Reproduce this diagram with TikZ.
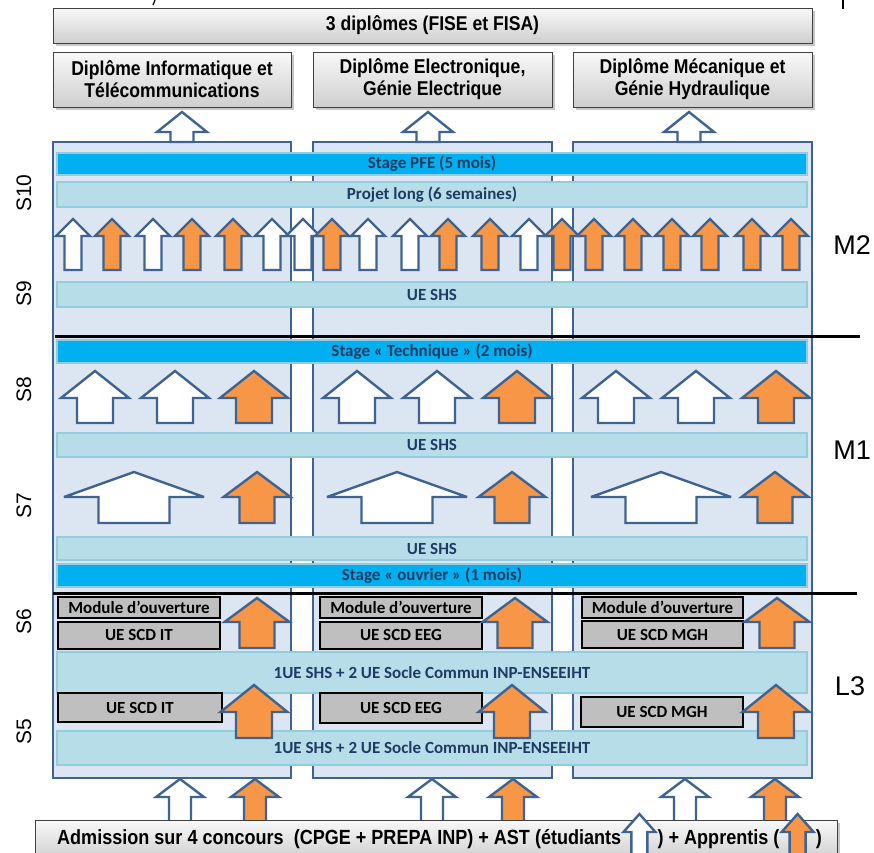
\documentclass[tikz,border=0pt]{standalone}
\usepackage{fontspec}
\setmainfont{Liberation Sans}
\newfontfamily\labfont{Carlito}
\newfontfamily\narrowfont{Liberation Sans}[FakeStretch=0.88]
\usetikzlibrary{shadows}

\definecolor{frameblue}{HTML}{3F6391}
\definecolor{colfill}{HTML}{DCE6F2}
\definecolor{brightblue}{HTML}{00B0F0}
\definecolor{paleteal}{HTML}{B7DEE8}
\definecolor{barline}{HTML}{93CDDD}
\definecolor{labelnavy}{HTML}{1F3B63}
\definecolor{apporange}{HTML}{F79646}
\definecolor{boxgray}{HTML}{BFBFBF}
\definecolor{boxedge}{HTML}{404040}

% block arrow: fill, centre x, tip y, head base y, bottom y, head half width, shaft half width
\newcommand\blkarrow[7]{%
  \draw[blockedge, fill=#1]
    ({#2-#7},#5) -- ({#2-#7},#4) -- ({#2-#6},#4) -- (#2,#3)
    -- ({#2+#6},#4) -- ({#2+#7},#4) -- ({#2+#7},#5) -- cycle;}

\begin{document}
\begin{tikzpicture}[x=1pt,y=-1pt,
  blockedge/.style={draw=frameblue, line width=2.4pt, line join=miter, miter limit=4},
  colframe/.style={draw=frameblue, line width=2.5pt, fill=colfill, inner sep=0pt},
  bar/.style={draw=barline, line width=2pt, minimum width=750pt, inner sep=0pt,
    text=labelnavy, font=\labfont\bfseries\fontsize{17}{19}\selectfont},
  brightbar/.style={bar, fill=brightblue},
  palebar/.style={bar, fill=paleteal},
  scdbox/.style={draw=black, line width=2pt, fill=boxgray, inner sep=0pt,
    text=black, font=\labfont\bfseries\fontsize{17}{19}\selectfont},
  topbox/.style={draw=boxedge, line width=1pt, top color=gray!5, bottom color=gray!38,
    drop shadow={shadow xshift=3pt, shadow yshift=-3pt, opacity=0.45, fill=gray},
    inner sep=0pt, align=center, font=\narrowfont\bfseries\fontsize{20}{22}\selectfont},
  admtext/.style={anchor=base west, inner sep=0pt, font=\narrowfont\bfseries\fontsize{20.5}{22}\selectfont},
  semlabel/.style={rotate=90, font=\fontsize{21}{24}\selectfont},
  lvllabel/.style={font=\fontsize{27}{30}\selectfont},
  sepline/.style={line width=3pt, black}
]
\useasboundingbox (0,0) rectangle (874,852);

% small marks on the upper edge
\draw[line width=1.2pt] (843,0) -- (843,9);
\draw[line width=1.2pt] (155,0) -- (153,5);

% diplomas
\node[topbox, minimum width=759pt, minimum height=35pt] (diplomes) at (432.5,25.5) {3 diplômes (FISE et FISA)};
\node[topbox, minimum width=238pt, minimum height=55pt] (dip1) at (172,79.5) {Diplôme Informatique et\\Télécommunications};
\node[topbox, minimum width=239pt, minimum height=55pt] (dip2) at (432.5,79.5) {Diplôme Electronique,\\Génie Electrique};
\node[topbox, minimum width=239pt, minimum height=55pt] (dip3) at (692.5,79.5) {Diplôme Mécanique et\\Génie Hydraulique};

% the three study tracks
\node[colframe, minimum width=238pt, minimum height=636pt] (col1) at (172,460) {};
\node[colframe, minimum width=239pt, minimum height=636pt] (col2) at (432.5,460) {};
\node[colframe, minimum width=239pt, minimum height=636pt] (col3) at (692.5,460) {};

% arrows towards the diplomas
\blkarrow{white}{182}{112}{132}{142}{25}{11.5}
\blkarrow{white}{428}{112}{132}{142}{25}{11.5}
\blkarrow{white}{689}{112}{132}{142}{25}{11.5}

% common teaching blocks
\node[brightbar, minimum height=22pt] (pfe) at (432,164) {Stage PFE (5 mois)};
\node[palebar, minimum height=25pt] (projet) at (432,194.5) {Projet long (6 semaines)};
\node[palebar, minimum height=25pt] (shs9) at (432,294.5) {UE SHS};
\node[brightbar, minimum height=23pt] (stech) at (432,351.5) {Stage « Technique » (2 mois)};
\node[palebar, minimum height=24pt] (shs8) at (432,445) {UE SHS};
\node[palebar, minimum height=23pt] (shs7) at (432,548.5) {UE SHS};
\node[brightbar, minimum height=23pt] (souv) at (432,575.5) {Stage « ouvrier » (1 mois)};
\node[palebar, minimum height=41pt] (socle6) at (432,672.5) {1UE SHS + 2 UE Socle Commun INP-ENSEEIHT};
\node[palebar, minimum height=34pt] (socle5) at (432,748) {1UE SHS + 2 UE Socle Commun INP-ENSEEIHT};

% track specific units
\node[scdbox, minimum width=162pt, minimum height=21pt] (mod1) at (139,607.5) {Module d’ouverture};
\node[scdbox, minimum width=162pt, minimum height=27pt] (scd6a) at (139,635) {UE SCD IT};
\node[scdbox, minimum width=162pt, minimum height=21pt] (mod2) at (401,607.5) {Module d’ouverture};
\node[scdbox, minimum width=162pt, minimum height=27pt] (scd6b) at (401,635) {UE SCD EEG};
\node[scdbox, minimum width=161pt, minimum height=21pt] (mod3) at (662.5,607.5) {Module d’ouverture};
\node[scdbox, minimum width=161pt, minimum height=27pt] (scd6c) at (662.5,634.5) {UE SCD MGH};
\node[scdbox, minimum width=164pt, minimum height=29pt] (scd5a) at (140,707.5) {UE SCD IT};
\node[scdbox, minimum width=162pt, minimum height=30pt] (scd5b) at (401,708) {UE SCD EEG};
\node[scdbox, minimum width=162pt, minimum height=30pt] (scd5c) at (662,712) {UE SCD MGH};

% S9/S10 row of arrows
\foreach \c/\f in {73/white,112/apporange,153/white,192/apporange,233/apporange,272/white,
  303/white,332/apporange,368/white,410/white,448/apporange,490/apporange,529/white,
  562/apporange,594/apporange,633/apporange,672/apporange,710/apporange,752/apporange,791/apporange}
  {\blkarrow{\f}{\c}{219}{236}{270}{17}{8.5}}

% S8 arrows
\foreach \c/\f in {95/white,175/white,254/apporange,357/white,437/white,517/apporange,
  616/white,696/white,776/apporange}
  {\blkarrow{\f}{\c}{371}{398}{423}{34}{18}}

% S7 arrows
\foreach \c in {134,397,661}{\blkarrow{white}{\c}{472}{497}{523}{70}{35.5}}
\foreach \c in {257,512,775}{\blkarrow{apporange}{\c}{472}{497}{523}{33.5}{17.5}}

% S6 and S5 arrows
\foreach \c in {257,515,777}{\blkarrow{apporange}{\c}{598}{622}{648}{32.5}{17.5}}
\foreach \c in {254,512,776}{\blkarrow{apporange}{\c}{685}{712}{738}{33.5}{18}}

% level separators
\draw[sepline] (55,336) -- (860,336);
\draw[sepline] (53,593) -- (857,593);

% admission arrows
\foreach \c/\f in {180/white,255/apporange,432/white,513/apporange,685/white,775/apporange}
  {\blkarrow{\f}{\c}{779}{797}{822}{24}{11}}

% admission box with its inline arrow symbols
\node[topbox, minimum width=802pt, minimum height=40pt] (admbox) at (436,840) {};
\node[admtext] (adm1) at (57,844) {Admission sur 4 concours\ \ (CPGE + PREPA INP) + AST (étudiants};
\path (adm1.base east) ++(18,0) coordinate (ia1);
\begin{scope}[shift={(ia1)}]
  \blkarrow{white}{0}{-30}{-12}{12}{16}{8}
\end{scope}
\node[admtext] (adm2) at ([xshift=18pt]ia1) {) + Apprentis (};
\path (adm2.base east) ++(18,0) coordinate (ia2);
\begin{scope}[shift={(ia2)}]
  \blkarrow{apporange}{0}{-30}{-12}{12}{16}{8}
\end{scope}
\node[admtext] (adm3) at ([xshift=18pt]ia2) {)};

% semester labels
\node[semlabel] (s10) at (24,193) {S10};
\node[semlabel] (s9) at (24,294) {S9};
\node[semlabel] (s8) at (24,390) {S8};
\node[semlabel] (s7) at (24,506) {S7};
\node[semlabel] (s6) at (24,622) {S6};
\node[semlabel] (s5) at (24,732) {S5};

% level labels
\node[lvllabel] (m2) at (852,245) {M2};
\node[lvllabel] (m1) at (852,450) {M1};
\node[lvllabel] (l3) at (850,686) {L3};
\end{tikzpicture}
\end{document}
